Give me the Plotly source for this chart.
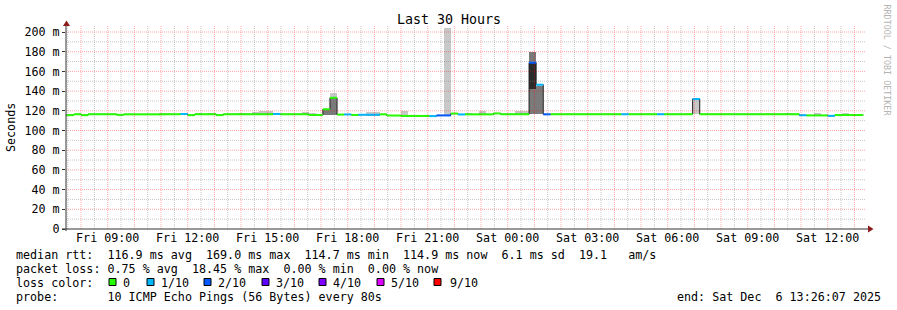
import plotly.graph_objects as go
from datetime import datetime, timedelta

# ---------------- data ----------------
TITLE = "Last 30 Hours"
Y_LABEL = "Seconds"
END_TIME = datetime(2025, 12, 6, 13, 26, 7)
SPAN_HOURS = 30
FIRST_BIN = datetime(2025, 12, 5, 7, 12)   # 16-minute consolidated bins
STEP_MIN = 16

# median rtt per bin (ms)
median_ms = [
    115.6, 115.6, 116.5, 115.6, 116.5, 116.5, 116.5, 116.5, 115.9, 116.4,
    116.4, 116.4, 116.4, 116.4, 116.4, 116.5, 116.5, 116.8, 115.6, 116.5,
    116.5, 116.5, 115.6, 116.5, 116.5, 116.5, 116.5, 116.5, 116.5, 116.5,
    116.8, 116.5, 116.5, 116.5, 116.5, 115.8, 115.8, 121.5, 133.2, 116.2,
    116.3, 115.8, 116.0, 116.0, 116.0, 116.4, 115.2, 115.2, 114.8, 114.8,
    114.8, 114.8, 114.6, 115.3, 115.3, 117.2, 116.3, 116.4, 116.4, 116.4,
    116.4, 117.3, 116.5, 116.5, 116.5, 116.5, 168.8, 146.5, 116.4, 116.5,
    116.5, 116.5, 116.5, 116.5, 116.5, 116.5, 116.5, 116.5, 116.5, 116.5,
    116.5, 116.5, 116.5, 116.5, 116.5, 116.5, 116.5, 116.5, 116.5, 132.0,
    116.5, 116.5, 116.5, 116.5, 116.5, 116.5, 116.5, 116.5, 116.5, 116.5,
    116.5, 116.5, 116.5, 116.5, 115.5, 115.3, 115.3, 115.3, 114.9, 115.7,
    115.7, 115.7, 115.7,
]
# lost pings out of 10 per bin
loss_count = [
    0, 0, 0, 0, 0, 0, 0, 0, 0, 0,
    0, 0, 0, 0, 0, 0, 0, 1, 0, 0,
    0, 0, 0, 0, 0, 0, 0, 0, 0, 0,
    1, 0, 0, 0, 0, 0, 0, 0, 0, 0,
    1, 0, 1, 1, 1, 0, 0, 0, 0, 0,
    0, 0, 1, 2, 2, 0, 1, 0, 0, 0,
    0, 0, 0, 0, 0, 0, 2, 1, 2, 0,
    0, 0, 0, 0, 0, 0, 0, 0, 0, 1,
    0, 0, 0, 0, 1, 0, 0, 0, 0, 1,
    0, 0, 0, 0, 0, 0, 0, 0, 0, 0,
    0, 0, 0, 0, 1, 0, 0, 0, 1, 0,
    0, 0, 0,
]

# smoke layers (bin index, low ms, high ms)
light_bins = [14, 19, 21, 25, 27, 28, 29, 34, 35, 38, 43, 44, 48, 54, 57, 59, 64, 65, 89, 102, 106, 110]
light_lo = [115.5, 115.5, 115.5, 115.5, 115.5, 115.5, 115.5, 115.5, 115.0, 115.3, 115.0, 115.0,
            114.0, 116.0, 115.5, 115.5, 115.5, 115.5, 116.5, 115.5, 114.5, 114.5]
light_hi = [118.0, 118.0, 118.0, 117.8, 118.5, 120.0, 120.0, 118.3, 117.8, 137.8, 118.3, 118.3,
            120.0, 203.6, 117.8, 119.5, 119.5, 119.8, 131.5, 118.0, 118.0, 118.0]
mid_bins = [37, 38, 66, 67]
mid_lo = [115.3, 115.3, 116.8, 116.8]
mid_hi = [121.0, 132.8, 180.2, 145.5]
dark_bins = [66]
dark_lo = [142.3]
dark_hi = [168.3]

LOSS_COLORS = {0: "#26ff00", 1: "#00b8ff", 2: "#0059ff", 3: "#5e00ff",
               4: "#7e00ff", 5: "#dd00ff", 9: "#ff0000"}
LEGEND_KEYS = [0, 1, 2, 3, 4, 5, 9]
LEGEND_LABELS = ["0", "1/10", "2/10", "3/10", "4/10", "5/10", "9/10"]

STATS_LINE1 = "median rtt:  116.9 ms avg  169.0 ms max  114.7 ms min  114.9 ms now  6.1 ms sd  19.1   am/s"
STATS_LINE2 = "packet loss: 0.75 % avg  18.45 % max  0.00 % min  0.00 % now"
LOSS_LINE = "loss color:"
PROBE_LINE = "probe:       10 ICMP Echo Pings (56 Bytes) every 80s"
END_LINE = "end: Sat Dec  6 13:26:07 2025"
WATERMARK = "RRDTOOL / TOBI OETIKER"

Y_MAX = 206.1
Y_TICKS = [0, 20, 40, 60, 80, 100, 120, 140, 160, 180, 200]

# ---------------- layout geometry ----------------
W, H = 897, 310
ML, MR, MT, MB = 66, 31, 26, 81
PW, PH = W - ML - MR, H - MT - MB
FONT = "DejaVu Sans Mono"
FS = 11.7


def px(xpix):
    return (xpix - ML) / PW


def py(ypix):
    return (MT + PH - ypix) / PH


def ts(d):
    return d.strftime("%Y-%m-%d %H:%M:%S")


def nb(s):
    return s.replace(" ", "\u00a0")


start_time = END_TIME - timedelta(hours=SPAN_HOURS)
step = timedelta(minutes=STEP_MIN)
step_ms = STEP_MIN * 60 * 1000
n = len(median_ms)
bin_start = [FIRST_BIN + i * step for i in range(n)]

fig = go.Figure()


def smoke(bins, lo, hi, color):
    fig.add_trace(go.Bar(
        x=[ts(bin_start[b]) for b in bins],
        y=[h - l for l, h in zip(lo, hi)],
        base=lo, width=step_ms, offset=0,
        marker=dict(color=color, line=dict(width=0)), opacity=1,
        hoverinfo="skip", showlegend=False))


smoke(light_bins, light_lo, light_hi, "#c8c8c8")
smoke(mid_bins, mid_lo, mid_hi, "#7a7a7a")
smoke(dark_bins, dark_lo, dark_hi, "#2b2b2b")

# dark step outline of the median
fig.add_trace(go.Scatter(
    x=[ts(t) for t in bin_start] + [ts(bin_start[-1] + step)],
    y=median_ms + [median_ms[-1]],
    mode="lines", line=dict(color="#202020", width=1, shape="hv"),
    hoverinfo="skip", showlegend=False))

# coloured median segments by loss
for key in LEGEND_KEYS:
    xs, ys = [], []
    for i in range(n):
        if loss_count[i] == key:
            xs += [ts(bin_start[i]), ts(bin_start[i] + step), None]
            ys += [median_ms[i], median_ms[i], None]
    if xs:
        fig.add_trace(go.Scatter(x=xs, y=ys, mode="lines",
                                 line=dict(color=LOSS_COLORS[key], width=2),
                                 hoverinfo="skip", showlegend=False))

shapes = []
# grid (drawn on top like rrdtool)
g = datetime(2025, 12, 5, 7, 30)
while g < END_TIME:
    major = g.minute == 0
    shapes.append(dict(type="line", xref="x", yref="paper", x0=ts(g), x1=ts(g), y0=0, y1=1,
                       line=dict(color="rgba(255,0,0,0.35)" if major else "rgba(130,130,130,0.45)",
                                 width=1, dash="1px,1px"), layer="above"))
    g += timedelta(minutes=30)
for v in range(10, 201, 10):
    major = v % 20 == 0
    shapes.append(dict(type="line", xref="paper", yref="y", x0=0, x1=1, y0=v, y1=v,
                       line=dict(color="rgba(255,0,0,0.35)" if major else "rgba(130,130,130,0.45)",
                                 width=1, dash="1px,1px"), layer="above"))

# axes and arrows
AX = "#333333"
ARROW = "#8b1a1a"
shapes.append(dict(type="line", xref="paper", yref="paper", x0=px(62), x1=px(869), y0=0, y1=0,
                   line=dict(color=AX, width=1), layer="above"))
shapes.append(dict(type="line", xref="paper", yref="paper", x0=0, x1=0, y0=py(231), y1=py(23),
                   line=dict(color=AX, width=1), layer="above"))
shapes.append(dict(type="path", xref="paper", yref="paper",
                   path=f"M {px(63)} {py(26)} L {px(70)} {py(26)} L {px(66.5)} {py(20.5)} Z",
                   fillcolor=ARROW, line=dict(width=0), layer="above"))
shapes.append(dict(type="path", xref="paper", yref="paper",
                   path=f"M {px(868)} {py(225.5)} L {px(868)} {py(232.5)} L {px(873.5)} {py(229)} Z",
                   fillcolor=ARROW, line=dict(width=0), layer="above"))

# legend boxes
box_x = [109, 147, 204, 262, 319, 377, 434]
text_x = [123, 161, 218, 276, 333, 391, 450]
for k, bx in zip(LEGEND_KEYS, box_x):
    shapes.append(dict(type="rect", xref="paper", yref="paper",
                       x0=px(bx), x1=px(bx + 7), y0=py(285.5), y1=py(278.5),
                       fillcolor=LOSS_COLORS[k], line=dict(color="#000000", width=1), layer="above"))

ann = []


def text(s, xpix, ypix, xanchor="left", size=FS, color="#000000", angle=0):
    ann.append(dict(text=nb(s), xref="paper", yref="paper", x=px(xpix), y=py(ypix),
                    xanchor=xanchor, yanchor="middle", showarrow=False, textangle=angle,
                    borderpad=0, borderwidth=0,
                    font=dict(family=FONT, size=size, color=color)))


text(TITLE, 448.5, 19.5, xanchor="center", size=13.3)
text(Y_LABEL, 11, 127, xanchor="center", angle=-90)
text(WATERMARK, 886.5, 60, xanchor="center", size=8.4, color="#b4b4b4", angle=90)
text(STATS_LINE1, 16, 254.5)
text(STATS_LINE2, 16, 268.5)
text(LOSS_LINE, 16, 282.5)
for lab, tx in zip(LEGEND_LABELS, text_x):
    text(lab, tx, 282.5)
text(PROBE_LINE, 16, 296.5)
text(END_LINE, 881, 296.5, xanchor="right")

x_tick_times = [datetime(2025, 12, 5, 9) + timedelta(hours=3 * i) for i in range(10)]
x_tick_text = [t.strftime("%a %H:%M") for t in x_tick_times]
y_tick_text = ["0" if v == 0 else f"{v} m" for v in Y_TICKS]

fig.update_layout(
    width=W, height=H, margin=dict(l=ML, r=MR, t=MT, b=MB, pad=0),
    paper_bgcolor="#ffffff", plot_bgcolor="#ffffff",
    barmode="overlay", bargap=0, showlegend=False,
    font=dict(family=FONT, size=FS, color="#000000"),
    xaxis=dict(type="date", range=[ts(start_time), ts(END_TIME)], showgrid=False, zeroline=False,
               showline=False, tickvals=[ts(t) for t in x_tick_times], ticktext=x_tick_text,
               ticks="", tickfont=dict(family=FONT, size=FS, color="#000000")),
    yaxis=dict(range=[0, Y_MAX], showgrid=False, zeroline=False, showline=False,
               tickvals=Y_TICKS, ticktext=y_tick_text, ticks="outside", ticklen=3,
               tickcolor=AX, tickfont=dict(family=FONT, size=FS, color="#000000")),
    shapes=shapes, annotations=ann,
)

fig.write_html("out.html", config={"displayModeBar": False})
